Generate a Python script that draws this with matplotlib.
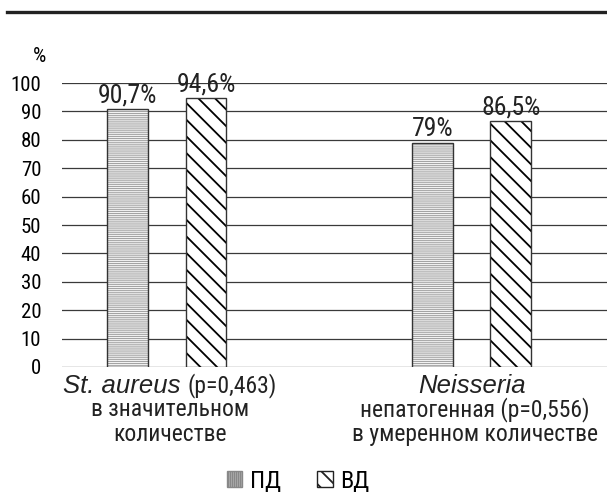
import matplotlib
matplotlib.use('Agg')
import matplotlib.pyplot as plt
from matplotlib.lines import Line2D
from matplotlib.patches import Patch

# data
groups = ['St. aureus', 'Neisseria']
pd_values = [90.7, 79.0]   # ПД
vd_values = [94.6, 86.5]   # ВД
pd_labels = ['90,7%', '79%']
vd_labels = ['94,6%', '86,5%']
y_ticks = [0, 10, 20, 30, 40, 50, 60, 70, 80, 90, 100]
cat_line1 = [('St. aureus', '(p=0,463)'), ('Neisseria', '')]
cat_rest = [['в значительном', 'количестве'],
            ['непатогенная (p=0,556)', 'в умеренном количестве']]

plt.rcParams['font.family'] = ['Roboto Condensed', 'Liberation Sans', 'DejaVu Sans']

W, H = 607, 498
FS_TICK = 15
FS_VAL = 18.5
FS_CAT = 17
FS_ITAL = 18.5
FS_LEG = 17.5
BAR_W = 0.134
OFFSET = 0.129
GRID_C = '#3a3a3a'
EDGE_C = '#333333'
TEXT_C = '#222222'

fig = plt.figure(figsize=(W / 100, H / 100), dpi=100)
ax = fig.add_axes([62 / W, 1 - 367 / H, 1 - 62 / W, (367 - 83) / H])

x = list(range(len(groups)))
x_pd = [v - OFFSET for v in x]
x_vd = [v + OFFSET for v in x]

ax.set_ylim(0, 100)
ax.set_xlim(-0.343, 1.444)
ax.set_yticks(y_ticks)
ax.set_yticklabels([str(t) for t in y_ticks], fontsize=FS_TICK)
ax.tick_params(axis='y', length=0, pad=15)
ax.set_xticks([])
for s in ax.spines.values():
    s.set_visible(False)
for t in y_ticks:
    ax.axhline(t, color=GRID_C, lw=0.9, zorder=0)

# ПД bars: fine grey line fill
plt.rcParams['hatch.linewidth'] = 0.7
ax.bar(x_pd, pd_values, BAR_W, color='#f2f2f2', edgecolor='#a0a0a0',
       hatch='--------', linewidth=0, zorder=2)
# ВД bars: diagonal hatch
plt.rcParams['hatch.linewidth'] = 1.3
ax.bar(x_vd, vd_values, BAR_W, color='white', edgecolor='black',
       hatch='\\\\', linewidth=0, zorder=2)
ax.bar(x_pd, pd_values, BAR_W, fill=False, edgecolor=EDGE_C, linewidth=1.0, zorder=3)
ax.bar(x_vd, vd_values, BAR_W, fill=False, edgecolor=EDGE_C, linewidth=1.0, zorder=3)

for xi, v, lab in zip(x_pd + x_vd, pd_values + vd_values, pd_labels + vd_labels):
    ax.text(xi, v + 0.5, lab, ha='center', va='bottom', fontsize=FS_VAL, color=TEXT_C)

fig.text(40 / W, 1 - 56 / H, '%', ha='center', va='center', fontsize=FS_TICK)

# category labels under the groups
xt = ax.get_xaxis_transform()
line_y = [-0.067, -0.151, -0.236]
for xi, (it, rest), lines in zip(x, cat_line1, cat_rest):
    if rest:
        ax.annotate(it, (xi, line_y[0]), xycoords=xt, xytext=(14, 0),
                    textcoords='offset pixels', ha='right', va='center',
                    fontsize=FS_ITAL, style='italic', family='Liberation Sans',
                    color=TEXT_C, annotation_clip=False)
        ax.annotate(rest, (xi, line_y[0]), xycoords=xt, xytext=(21, 0),
                    textcoords='offset pixels', ha='left', va='center',
                    fontsize=FS_CAT, color=TEXT_C, annotation_clip=False)
    else:
        ax.text(xi, line_y[0], it, transform=xt, ha='center', va='center',
                fontsize=FS_ITAL, style='italic', family='Liberation Sans',
                color=TEXT_C)
    for ly, s in zip(line_y[1:], lines):
        ax.text(xi + 0.012, ly, s, transform=xt, ha='center', va='center',
                fontsize=FS_CAT, color=TEXT_C)

# top rule
fig.add_artist(Line2D([7 / W, 1], [1 - 12 / H, 1 - 12 / H], color='#222222',
                      lw=2.4, transform=fig.transFigure))

plt.rcParams['hatch.linewidth'] = 0.7
h_pd = Patch(facecolor='#f2f2f2', edgecolor='#888888', hatch='||||||||', label='ПД')
plt.rcParams['hatch.linewidth'] = 1.3
h_vd = Patch(facecolor='white', edgecolor='#222222', hatch='\\\\', label='ВД')
fig.legend(handles=[h_pd, h_vd], loc='center', bbox_to_anchor=(298 / W, 1 - 481 / H),
           ncol=2, frameon=False, fontsize=FS_LEG, handlelength=0.65, handleheight=0.65,
           handletextpad=0.3, columnspacing=1.5)

fig.savefig('out.png', dpi=100)
